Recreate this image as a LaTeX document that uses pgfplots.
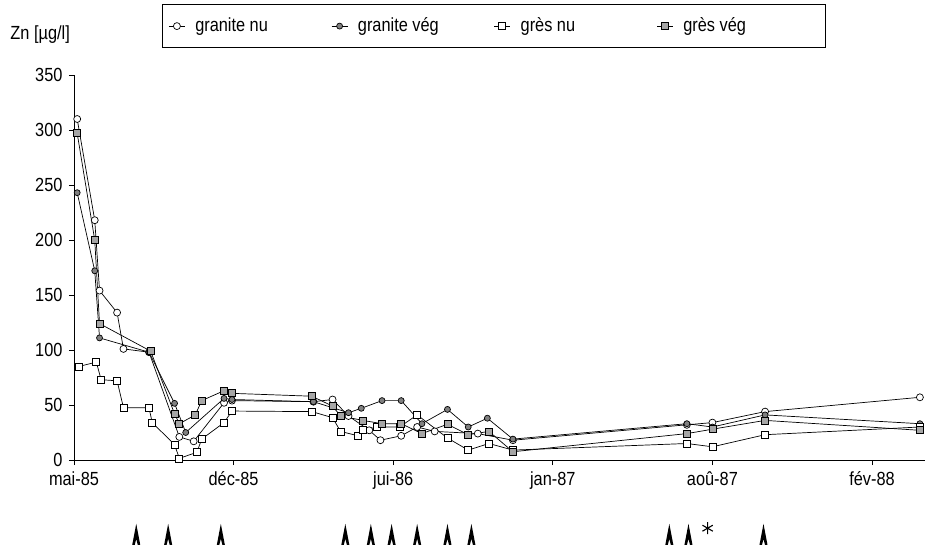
\documentclass[border=0pt]{standalone}
\usepackage{pgfplots}
\pgfplotsset{compat=1.18}
\usepackage{fontspec}
\setmainfont{Liberation Sans}[FakeStretch=0.86]
\pgfdeclareplotmark{tower}{%
  \pgfpathmoveto{\pgfqpoint{0pt}{11pt}}%
  \pgfpathlineto{\pgfqpoint{-4pt}{-10pt}}%
  \pgfpathlineto{\pgfqpoint{-1.5pt}{-10pt}}%
  \pgfpathlineto{\pgfqpoint{0pt}{-4pt}}%
  \pgfpathlineto{\pgfqpoint{1.5pt}{-10pt}}%
  \pgfpathlineto{\pgfqpoint{4pt}{-10pt}}%
  \pgfpathclose
  \pgfusepathqfill}
\newcommand{\lent}[1]{\hspace{8pt}\makebox[134pt][l]{#1}}
\begin{document}
\fontsize{19}{22}\selectfont
\begin{tikzpicture}
\useasboundingbox (-74pt,-95pt) rectangle (855pt,460pt);
\begin{axis}[
  at={(0,0)}, anchor=south west,
  width=851pt, height=385pt, scale only axis,
  xmin=0, xmax=5.332, ymin=0, ymax=350,
  axis lines=left, axis line style={-, line width=0.8pt},
  clip=false,
  xtick={0,1,2,3,4,5},
  xticklabels={mai-85,déc-85,jui-86,jan-87,aoû-87,fév-88},
  ytick={0,50,...,350},
  tick align=outside, tick style={black, line width=0.8pt},
  major tick length=5pt,
  tick label style={font=\fontsize{19}{22}\selectfont},
  /pgf/number format/assume math mode=true,
  legend columns=4,
  legend image code/.code={%
    \draw[#1, line width=0.7pt] (0pt,0pt) -- (16pt,0pt);
    \draw[#1, only marks] plot coordinates {(8pt,0pt)};},
  legend style={at={(rel axis cs:0.4935,1.127)}, anchor=center,
    draw=black, line width=0.8pt, font=\fontsize{19}{22}\selectfont,
    inner xsep=6pt, inner ysep=11pt, nodes={inner sep=2pt}},
  every axis plot/.append style={black, line width=0.7pt},
]
\addplot[mark=*, mark size=3.5pt, mark options={fill=white, line width=0.7pt}] coordinates {
(0.02,310) (0.13,218) (0.16,154) (0.27,134) (0.31,101) (0.47,98) (0.66,21) (0.75,17)
(0.94,52) (0.99,54) (1.50,53) (1.62,55) (1.72,40) (1.85,27) (1.92,18) (2.05,22)
(2.15,30) (2.26,26) (2.53,24) (2.75,18) (3.84,32) (4.00,34) (4.33,44) (5.30,57)};
\addlegendentry{\lent{granite nu}}
\addplot[mark=*, mark size=3pt, mark options={fill=gray, line width=0.7pt}] coordinates {
(0.02,243) (0.13,172) (0.16,111) (0.47,98) (0.63,51.5) (0.70,25) (0.94,56) (0.99,55)
(1.50,53) (1.72,43) (1.80,47) (1.93,54) (2.05,54) (2.18,33) (2.34,46) (2.47,30)
(2.59,38) (2.75,19) (3.84,33) (4.00,30) (4.33,41) (5.30,33)};
\addlegendentry{\lent{granite vég}}
\addplot[mark=square*, mark size=3.5pt, mark options={fill=white, line width=0.7pt}] coordinates {
(0.03,85) (0.14,89) (0.17,73) (0.27,72) (0.31,47.5) (0.47,47.5) (0.49,34) (0.63,14)
(0.66,1.5) (0.77,7) (0.80,19) (0.94,34) (0.99,44.5) (1.49,44) (1.62,38.5) (1.67,26)
(1.78,22) (1.81,27) (1.90,30) (2.04,30) (2.15,41) (2.34,20) (2.47,9) (2.60,15)
(2.75,9) (3.84,15) (4.00,12) (4.33,23) (5.30,30)};
\addlegendentry{\lent{grès nu}}
\addplot[mark=square*, mark size=3.5pt, mark options={fill=gray!70, line width=0.7pt}] coordinates {
(0.02,297) (0.13,200) (0.16,124) (0.48,99) (0.63,42) (0.66,33) (0.76,41) (0.80,54)
(0.94,63) (0.99,60.6) (1.49,58) (1.62,49) (1.67,40) (1.81,36) (1.93,33) (2.05,33)
(2.18,24) (2.34,32.5) (2.47,23) (2.60,26) (2.75,7.5) (3.84,24) (4.00,28) (4.33,36)
(5.30,27)};
\addlegendentry{\lent{grès vég}}
\addplot[only marks, mark=tower, forget plot] coordinates {
(0.39,-68) (0.59,-68) (0.92,-68) (1.70,-68) (1.86,-68) (1.99,-68) (2.15,-68)
(2.34,-68) (2.49,-68) (3.73,-68) (3.85,-68) (4.32,-68)};
\addplot[only marks, mark=asterisk, mark size=6pt, line width=1.1pt, forget plot] coordinates {(3.97,-62)};
\node[anchor=west, font=\fontsize{19}{22}\selectfont] at (rel axis cs:-0.0823,1.104) {Zn [µg/l]};
\end{axis}
\end{tikzpicture}
\end{document}
